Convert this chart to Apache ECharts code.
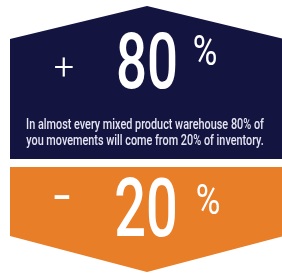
<!DOCTYPE html>
<html>
<head>
<meta charset="utf-8">
<script src="https://cdn.jsdelivr.net/npm/echarts@6/dist/echarts.min.js"></script>
<style>
  html, body { margin: 0; padding: 0; background: #fff; }
  #chart { width: 282px; height: 278px; }
</style>
</head>
<body>
<div id="chart"></div>
<script>
// values shown on the two panels
const signs = ['+', '-']
const percents = [80, 20]
const captionLines = [
  'In almost every mixed product warehouse 80% of',
  'you movements will come from 20% of inventory.',
]
const panelColors = ['#141440', '#e97e28']

const chart = echarts.init(document.getElementById('chart'))

const font = 'Roboto, "Liberation Sans", sans-serif'

const txt = (x, y, text, size, sx, weight, fill) => ({
  type: 'text',
  x: x,
  y: y,
  scaleX: sx,
  style: {
    x: 0,
    y: 0,
    text: text,
    fill: fill || '#fff',
    font: (weight || 'normal') + ' ' + size + 'px ' + font,
    textAlign: 'center',
    textVerticalAlign: 'middle',
  },
})

const graphic = [
  // navy panel with a roof on top
  {
    type: 'polygon',
    shape: { points: [[10, 39], [147, 6], [284, 39], [284, 159], [10, 159]] },
    style: { fill: panelColors[0] },
  },
  // orange panel with an arrow at the bottom
  {
    type: 'polygon',
    shape: { points: [[10, 167], [284, 167], [284, 236], [147, 272], [10, 236]] },
    style: { fill: panelColors[1] },
  },
  txt(64, 70, signs[0], 36, 1, 300),
  txt(147, 68, String(percents[0]), 78, 0.7, 500),
  txt(205, 54, '%', 42, 0.8),
  txt(62, 200, signs[1], 40, 1.4, 500),
  txt(146, 216, String(percents[1]), 81, 0.69, 500),
  txt(208, 203, '%', 42, 0.8),
]

captionLines.forEach((line, i) => {
  graphic.push(txt(145, 125 + i * 16, line, 15.5, 0.7, 500, '#e4e4f2'))
})

chart.setOption({
  animation: false,
  graphic: graphic,
})
</script>
</body>
</html>
